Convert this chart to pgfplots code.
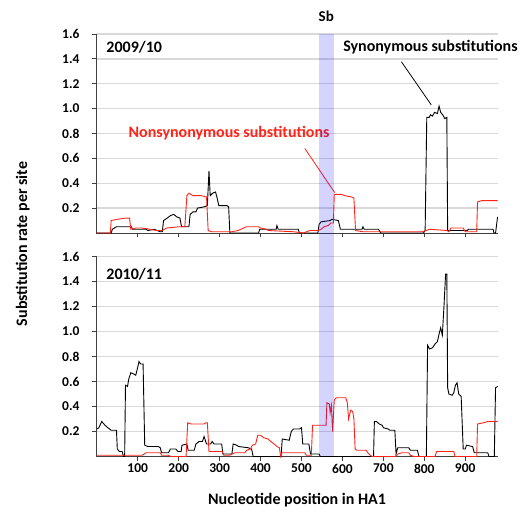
\documentclass[border=0pt]{standalone}
\usepackage{pgfplots}
\pgfplotsset{compat=1.18}
\usepackage{fontspec}
\setmainfont{Carlito}
\definecolor{synred}{HTML}{FF2318}
\definecolor{gridgray}{HTML}{D9D9D9}
\definecolor{axgray}{HTML}{404040}

\pgfplotsset{
  panel/.style={
    scale only axis, width=402pt, height=199pt,
    xmin=-2, xmax=980, ymin=0, ymax=1.6,
    axis lines*=left,
    axis line style={axgray, line width=0.8pt},
    ymajorgrids, grid style={gridgray, line width=1.3pt},
    ytick={0.2,0.4,0.6,0.8,1.0,1.2,1.4,1.6},
    yticklabels={0.2,0.4,0.6,0.8,1.0,1.2,1.4,1.6},
    xtick={100,200,300,400,500,600,700,800,900},
    tick align=outside, major tick length=4pt,
    tick style={axgray, line width=0.8pt},
    ticklabel style={font=\fontsize{13.5}{14}\selectfont\bfseries},
    yticklabel style={xshift=-9pt},
    clip=false,
  },
  syn/.style={black, line width=0.9pt},
  non/.style={synred, line width=0.9pt},
}

\begin{document}
\begin{tikzpicture}
\path (0,0) rectangle (526pt,521pt);

% 2009/10
\begin{axis}[panel, at={(96pt,288pt)}, anchor=south west, xticklabels={}]
\addplot[syn] coordinates {
(0,0) (35,0) (38,0.03) (48,0.05) (85,0.05) (87,0.03) (120,0.03) (125,0.02) (140,0.03)
(155,0.01) (160,0.01) (163,0.1) (172,0.12) (180,0.14) (188,0.15) (195,0.13) (203,0.12)
(207,0.05) (225,0.05) (228,0.15) (235,0.17) (242,0.17) (246,0.2) (262,0.21) (270,0.22)
(274,0.5) (277,0.3) (283,0.32) (290,0.33) (294,0.28) (298,0.22) (318,0.22) (322,0.21)
(325,0) (395,0) (398,0.03) (438,0.03) (440,0.06) (443,0.03) (492,0.03) (495,0)
(540,0) (543,0.07) (548,0.09) (570,0.1) (574,0.11) (590,0.1) (595,0.03) (648,0.03)
(650,0.05) (653,0.03) (688,0.03) (694,0) (798,0) (802,0.02) (806,0.93) (812,0.93)
(815,0.95) (820,0.94) (825,0.97) (832,0.96) (836,1.02) (840,0.97) (845,0.95) (850,0.92)
(855,0.93) (857,0.02) (905,0.02) (908,0.03) (968,0.03) (970,0) (974,0) (979,0.13)
};
\addplot[non] coordinates {
(0,0) (33,0) (35,0.1) (50,0.11) (70,0.12) (80,0.12) (83,0.03) (95,0.04) (110,0.04)
(130,0.03) (145,0.02) (160,0.02) (170,0.04) (200,0.05) (215,0.05) (220,0.3) (225,0.32)
(235,0.3) (255,0.3) (268,0.29) (272,0.02) (280,0.01) (330,0.01) (345,0.02) (352,0.03)
(365,0.05) (395,0.05) (400,0.04) (415,0.03) (418,0.02) (480,0.01) (505,0) (520,0.02)
(540,0.02) (548,0.03) (555,0.05) (565,0.06) (572,0.08) (578,0.08) (580,0.31) (598,0.31)
(606,0.3) (622,0.29) (628,0.28) (632,0.02) (650,0.01) (740,0.01) (795,0.01) (805,0.02)
(812,0.03) (855,0.02) (860,0.01) (865,0.04) (895,0.04) (900,0.01) (928,0.01) (930,0.25)
(940,0.26) (979,0.26)
};
\node[anchor=west, font=\fontsize{16}{18}\selectfont\bfseries] at (axis cs:15,1.49) {2009/10};
\node[font=\fontsize{16}{18}\selectfont\bfseries] at (axis cs:815,1.495) {Synonymous substitutions};
\draw[black, line width=0.8pt] (axis cs:744,1.377) -- (axis cs:817,1.03);
\node[synred, font=\fontsize{16}{18}\selectfont\bfseries] at (axis cs:323,0.80) {Nonsynonymous substitutions};
\draw[synred, line width=0.8pt] (axis cs:508,0.68) -- (axis cs:581,0.325);
\node[anchor=south, font=\fontsize{15}{17}\selectfont\bfseries] at (axis cs:560.5,1.6) [yshift=9pt] {Sb};
\coordinate (sbT) at (axis cs:542,1.6);
\end{axis}

% 2010/11
\begin{axis}[panel, at={(96pt,64.5pt)}, anchor=south west, height=200pt,
  xticklabels={100,200,300,400,500,600,700,800,900}]
\addplot[syn] coordinates {
(0,0.22) (5,0.23) (12,0.28) (20,0.25) (27,0.23) (35,0.21) (48,0.21) (50,0.06) (55,0.04)
(62,0.04) (65,0) (68,0) (70,0.57) (75,0.56) (78,0.62) (83,0.67) (90,0.66) (95,0.65)
(99,0.7) (103,0.76) (107,0.74) (113,0.74) (117,0.09) (125,0.08) (150,0.08) (155,0.07)
(158,0.03) (175,0.03) (180,0.06) (193,0.06) (198,0.04) (206,0.04) (208,0.09) (220,0.1)
(223,0.05) (238,0.05) (242,0.1) (250,0.12) (258,0.12) (262,0.16) (268,0.1) (278,0.1)
(282,0.12) (286,0.1) (305,0.1) (308,0.02) (330,0.02) (333,0.1) (342,0.09) (346,0.08)
(370,0.07) (378,0.06) (382,0) (450,0) (453,0.14) (470,0.13) (475,0.2) (480,0.22)
(495,0.22) (500,0.23) (503,0.1) (518,0.1) (522,0.02) (543,0.02) (546,0) (676,0)
(678,0.28) (683,0.28) (690,0.26) (697,0.25) (700,0.23) (712,0.22) (716,0.21) (728,0.21)
(731,0.02) (735,0.07) (762,0.07) (766,0.05) (783,0.05) (787,0) (805,0) (808,0.89)
(813,0.86) (820,0.87) (826,0.9) (832,0.92) (836,0.98) (840,1.03) (844,0.97) (848,1.2)
(852,1.46) (855,1.46) (857,0.55) (860,0.5) (868,0.49) (872,0.51) (876,0.57) (880,0.59)
(884,0.5) (890,0.48) (895,0.06) (900,0.06) (903,0.09) (918,0.08) (922,0.03) (955,0.03)
(958,0) (971,0) (974,0.55) (979,0.56)
};
\addplot[non] coordinates {
(0,0.01) (110,0.01) (116,0.02) (120,0.03) (155,0.03) (158,0.01) (175,0.01) (180,0)
(218,0) (222,0.27) (230,0.26) (262,0.26) (266,0.27) (270,0.27) (274,0.04) (306,0.04)
(310,0.01) (325,0.01) (330,0.02) (338,0.03) (362,0.03) (366,0.05) (375,0.06) (380,0.09)
(388,0.1) (393,0.17) (400,0.17) (408,0.15) (418,0.14) (425,0.12) (433,0.1) (440,0.08)
(446,0.07) (449,0) (452,0.03) (508,0.03) (512,0.01) (524,0.01) (527,0.25) (560,0.25)
(562,0.43) (568,0.42) (570,0.35) (573,0.41) (576,0.2) (580,0.45) (585,0.47) (608,0.47)
(612,0.43) (615,0.3) (620,0.37) (625,0.36) (628,0.3) (631,0.06) (635,0.05) (658,0.05)
(662,0.03) (668,0.01) (672,0) (730,0) (735,0.02) (745,0.03) (762,0.03) (766,0.01)
(775,0) (826,0) (830,0.04) (872,0.04) (875,0) (928,0) (930,0.26) (945,0.27) (955,0.28)
(979,0.28)
};
\node[anchor=west, font=\fontsize{16}{18}\selectfont\bfseries] at (axis cs:15,1.46) {2010/11};
\coordinate (sbB) at (axis cs:579,0);
\end{axis}

\fill[blue, fill opacity=0.17] (sbB) rectangle (sbT);

\node[rotate=90, font=\fontsize{16}{18}\selectfont\bfseries] at (22.7pt,277pt) {Substitution rate per site};
\node[font=\fontsize{16}{18}\selectfont\bfseries] at (297pt,21pt) {Nucleotide position in HA1};
\end{tikzpicture}
\end{document}
